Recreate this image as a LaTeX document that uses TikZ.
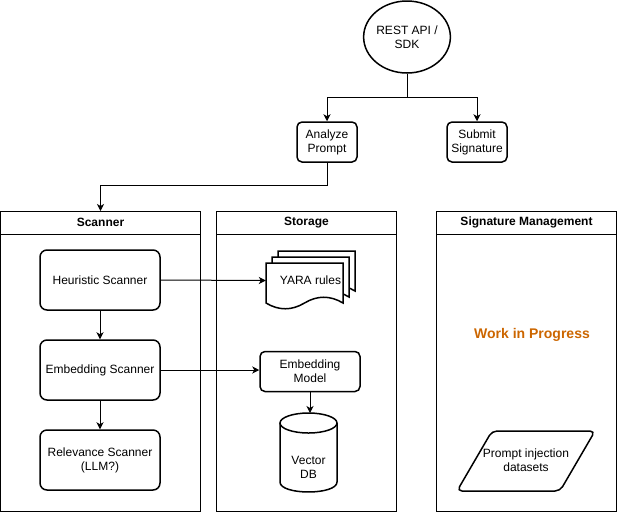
\documentclass[tikz,border=0pt]{standalone}
\usepackage{fontspec}
\setmainfont{Liberation Sans}
\usetikzlibrary{arrows.meta,shapes.geometric}
\definecolor{wipc}{HTML}{CC6600}
\begin{document}
\begin{tikzpicture}[x=1pt,y=-1pt,
 lbl/.style={font=\fontsize{12}{14}\selectfont, align=center},
 box/.style={lbl, draw, line width=1.5pt, rounded corners=7pt, minimum width=120pt, minimum height=60pt, inner sep=0pt},
 sbox/.style={box, rounded corners=5pt, minimum width=60pt, minimum height=40pt},
 lane/.style={draw, line width=1pt, minimum width=180pt, minimum height=300pt, inner sep=0pt},
 hdr/.style={font=\fontsize{12}{14}\selectfont\bfseries},
 arr/.style={line width=1pt, -{Stealth[length=7pt,width=7pt,inset=2pt]}},
 shp/.style={line width=1.5pt, fill=white},
 ]
\useasboundingbox (0,0) rectangle (617,512);

% lanes
\node[lane, minimum width=200pt] (scanner) at (100.5,361.5) {};
\node[lane] (storage) at (306.5,361.5) {};
\node[lane] (sigm) at (526.5,361.5) {};
\foreach \l in {scanner,storage,sigm}
  \draw[line width=1pt] ([yshift=-23pt]\l.north west) -- ([yshift=-23pt]\l.north east);
\node[hdr] (hscan) at ([yshift=-11.5pt]scanner.north) {Scanner};
\node[hdr] (hstor) at ([yshift=-11.5pt]storage.north) {Storage};
\node[hdr] (hsig) at ([yshift=-11.5pt]sigm.north) {Signature Management};

% top
\node[ellipse, draw, line width=1.5pt, minimum width=80pt, minimum height=72pt, lbl, inner sep=0pt] (api) at (407,37) {REST API /\\SDK};
\node[sbox] (analyze) at (327,142) {Analyze\\Prompt};
\node[sbox] (submit) at (477,142) {Submit\\Signature};
\coordinate (j1) at (407,97);
\coordinate (j2) at (327,185);

% scanner
\node[box] (heur) at (100,280) {Heuristic Scanner};
\node[box] (embscan) at (100,370) {Embedding Scanner};
\node[box] (relev) at (100,460) {Relevance Scanner\\(LLM?)};

% storage: YARA multi-document
\foreach \d in {12,6,0} {
  \draw[shp] (266+\d,263-\d) -- (343+\d,263-\d) -- (343+\d,303-\d)
    .. controls (330.2+\d,295.3-\d) and (317.3+\d,295.3-\d) .. (304.5+\d,303-\d)
    .. controls (291.7+\d,310.7-\d) and (278.8+\d,310.7-\d) .. (266+\d,303-\d) -- cycle;
}
\node[lbl, minimum width=89pt, minimum height=59pt, inner sep=0pt] (yara) at (310.5,280.5) {YARA rules};

\node[sbox, minimum width=100pt] (embmodel) at (310,371.5) {Embedding\\Model};

% vector DB cylinder
\draw[shp] (280,423) -- (280,482) .. controls (280,495.3) and (337,495.3) .. (337,482) -- (337,423);
\draw[shp] (308.5,423) ellipse [x radius=28.5pt, y radius=10pt];
\coordinate (vdbtop) at (308.5,413);
\node[lbl] (vdb) at (308.5,467) {Vector\\DB};

% signature management
\node[font=\fontsize{14}{16}\selectfont\bfseries, text=wipc] (wip) at (532,335) {Work in Progress};
\draw[shp, rounded corners=5pt] (492,431) -- (595,431) -- (560,491) -- (457,491) -- cycle;
\node[lbl] (datasets) at (526,460) {Prompt injection\\datasets};

% connectors
\draw[line width=1pt] (api.south) -- (j1);
\draw[arr] (j1) -| (analyze.north);
\draw[arr] (j1) -| (submit.north);
\draw[arr] (analyze.south) -- (j2) -| (scanner.north);
\draw[arr] (heur.south) -- (embscan.north);
\draw[arr] (embscan.south) -- (relev.north);
\draw[arr] (heur.east) -- (yara.west);
\draw[arr] (embscan.east) -- (embscan.east -| embmodel.west);
\draw[arr] (embmodel.south) -- (embmodel.south |- vdbtop);
\end{tikzpicture}
\end{document}
